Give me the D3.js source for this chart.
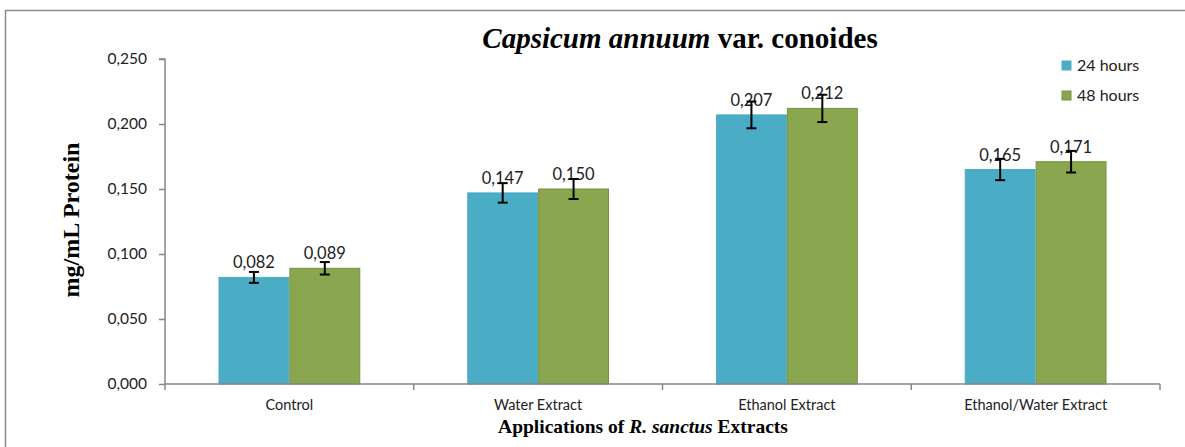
<!DOCTYPE html>
<html>
<head>
<meta charset="utf-8">
<script src="https://cdn.jsdelivr.net/npm/d3@7"></script>
<style>
  body { margin: 0; background: #fff; }
  svg { display: block; }
  .serif { font-family: "Liberation Serif", "Times New Roman", Times, serif; font-weight: bold; }
</style>
</head>
<body>
<div id="chart"></div>
<script>
// data
var categories = ['Control', 'Water Extract', 'Ethanol Extract', 'Ethanol/Water Extract']
var seriesNames = ['24 hours', '48 hours']
var values24 = [0.082, 0.147, 0.207, 0.165]
var values48 = [0.089, 0.150, 0.212, 0.171]
var errors24 = [0.0042, 0.0075, 0.0103, 0.0082]
var errors48 = [0.0048, 0.0077, 0.0105, 0.0083]
var yTicks = [0, 0.05, 0.1, 0.15, 0.2, 0.25]

var colors = ['#4BACC6', '#8AA64F']
var strokes = ['#4BACC6', '#76923C']

var sansFont = 'Lato, "Open Sans", sans-serif'

var svgWidth = 1185
var svgHeight = 447
var margin = { top: 59, left: 165, right: 25, bottom: 63 }
var width = svgWidth - margin.left - margin.right
var height = svgHeight - margin.top - margin.bottom

var svg = d3.select('#chart')
  .append('svg')
  .attr('width', svgWidth)
  .attr('height', svgHeight)

// outer frame
svg.append('rect')
  .attr('x', 5.5)
  .attr('y', 10.5)
  .attr('width', 1200)
  .attr('height', 460)
  .attr('fill', 'none')
  .attr('stroke', '#8c8c8c')
  .attr('stroke-width', 1.5)

var g = svg.append('g')
  .attr('transform', 'translate(' + margin.left + ',' + margin.top + ')')

var xScale = d3.scaleBand()
  .domain(categories)
  .range([0, width])

var groupWidth = xScale.bandwidth() * 0.57

var xInner = d3.scaleBand()
  .domain(seriesNames)
  .range([0, groupWidth])

var yScale = d3.scaleLinear()
  .domain([0, 0.25])
  .range([height, 0])

var fmt = function (v) { return d3.format('.3f')(v).replace('.', ',') }

// y axis
var yAxis = d3.axisLeft(yScale).tickValues(yTicks).tickFormat(fmt).tickSize(6).tickPadding(12)
var yG = g.append('g').attr('class', 'axis y-axis').call(yAxis)
yG.select('.domain').attr('stroke', '#868686').attr('stroke-width', 1.5)
  .attr('d', 'M0,' + height + 'V0H-6')
yG.selectAll('.tick line').attr('stroke', '#868686').attr('stroke-width', 1.5)
yG.selectAll('.tick text')
  .attr('font-family', sansFont)
  .attr('font-size', 15.5)
  .attr('fill', '#222')

var rows = categories.map(function (c, i) {
  return {
    cat: c,
    vals: [
      { s: seriesNames[0], v: values24[i], e: errors24[i], k: 0 },
      { s: seriesNames[1], v: values48[i], e: errors48[i], k: 1 }
    ]
  }
})

var groups = g.selectAll('.group')
  .data(rows)
  .enter()
  .append('g')
  .attr('class', 'group')
  .attr('transform', function (d) {
    return 'translate(' + (xScale(d.cat) + (xScale.bandwidth() - groupWidth) / 2) + ',0)'
  })

groups.selectAll('rect')
  .data(function (d) { return d.vals })
  .enter()
  .append('rect')
  .attr('x', function (d) { return xInner(d.s) + 0.5 })
  .attr('y', function (d) { return yScale(d.v) })
  .attr('width', xInner.bandwidth() - 1)
  .attr('height', function (d) { return height - yScale(d.v) })
  .attr('fill', function (d) { return colors[d.k] })
  .attr('stroke', function (d) { return strokes[d.k] })
  .attr('stroke-width', 1)

// value labels
groups.selectAll('.val')
  .data(function (d) { return d.vals })
  .enter()
  .append('text')
  .attr('class', 'val')
  .attr('x', function (d) { return xInner(d.s) + xInner.bandwidth() / 2 })
  .attr('y', function (d) { return yScale(d.v) - 9 })
  .attr('text-anchor', 'middle')
  .attr('font-family', sansFont)
  .attr('font-size', 16.5)
  .attr('fill', '#222')
  .text(function (d) { return fmt(d.v) })

// error bars
var errG = groups.selectAll('.err')
  .data(function (d) { return d.vals })
  .enter()
  .append('g')
  .attr('class', 'err')
  .attr('stroke', '#000')
  .attr('stroke-width', 2)

errG.append('line')
  .attr('x1', function (d) { return xInner(d.s) + xInner.bandwidth() / 2 })
  .attr('x2', function (d) { return xInner(d.s) + xInner.bandwidth() / 2 })
  .attr('y1', function (d) { return yScale(d.v + d.e) })
  .attr('y2', function (d) { return yScale(d.v - d.e) })

errG.selectAll('.cap')
  .data(function (d) { return [d.v + d.e, d.v - d.e].map(function (y) { return { s: d.s, y: y } }) })
  .enter()
  .append('line')
  .attr('x1', function (d) { return xInner(d.s) + xInner.bandwidth() / 2 - 5 })
  .attr('x2', function (d) { return xInner(d.s) + xInner.bandwidth() / 2 + 5 })
  .attr('y1', function (d) { return yScale(d.y) })
  .attr('y2', function (d) { return yScale(d.y) })

// x axis
var xG = g.append('g')
  .attr('class', 'axis x-axis')
  .attr('transform', 'translate(0,' + height + ')')
xG.append('line')
  .attr('x1', 0).attr('x2', width)
  .attr('stroke', '#868686').attr('stroke-width', 1.5)
xG.selectAll('.tk')
  .data(categories.concat(['end']))
  .enter()
  .append('line')
  .attr('class', 'tk')
  .attr('x1', function (d) { return d === 'end' ? width : xScale(d) })
  .attr('x2', function (d) { return d === 'end' ? width : xScale(d) })
  .attr('y1', 0).attr('y2', 6)
  .attr('stroke', '#868686').attr('stroke-width', 1.5)
xG.selectAll('.lbl')
  .data(categories)
  .enter()
  .append('text')
  .attr('class', 'lbl')
  .attr('x', function (d) { return xScale(d) + xScale.bandwidth() / 2 })
  .attr('y', 26)
  .attr('text-anchor', 'middle')
  .attr('font-family', sansFont)
  .attr('font-size', 14.5)
  .attr('fill', '#222')
  .text(function (d) { return d })

// title
var title = svg.append('text')
  .attr('class', 'serif')
  .attr('x', 680)
  .attr('y', 48)
  .attr('text-anchor', 'middle')
  .attr('font-size', 29)
title.append('tspan').attr('font-style', 'italic').text('Capsicum annuum')
title.append('tspan').text(' var. conoides')

// axis titles
svg.append('text')
  .attr('class', 'serif')
  .attr('transform', 'translate(79,220) rotate(-90)')
  .attr('text-anchor', 'middle')
  .attr('font-size', 24)
  .text('mg/mL Protein')

var xt = svg.append('text')
  .attr('class', 'serif')
  .attr('x', 643)
  .attr('y', 433)
  .attr('text-anchor', 'middle')
  .attr('font-size', 19.5)
xt.append('tspan').text('Applications of ')
xt.append('tspan').attr('font-style', 'italic').text('R. sanctus')
xt.append('tspan').text(' Extracts')

// legend
var legend = svg.selectAll('.legend')
  .data(seriesNames)
  .enter()
  .append('g')
  .attr('class', 'legend')
  .attr('transform', function (d, i) { return 'translate(1062,' + (61 + i * 30) + ')' })
legend.append('rect')
  .attr('width', 9).attr('height', 9)
  .attr('fill', function (d, i) { return colors[i] })
  .attr('stroke', function (d, i) { return strokes[i] })
legend.append('text')
  .attr('x', 15).attr('y', 10)
  .attr('font-family', sansFont)
  .attr('font-size', 16)
  .attr('fill', '#222')
  .text(function (d) { return d })
</script>
</body>
</html>
